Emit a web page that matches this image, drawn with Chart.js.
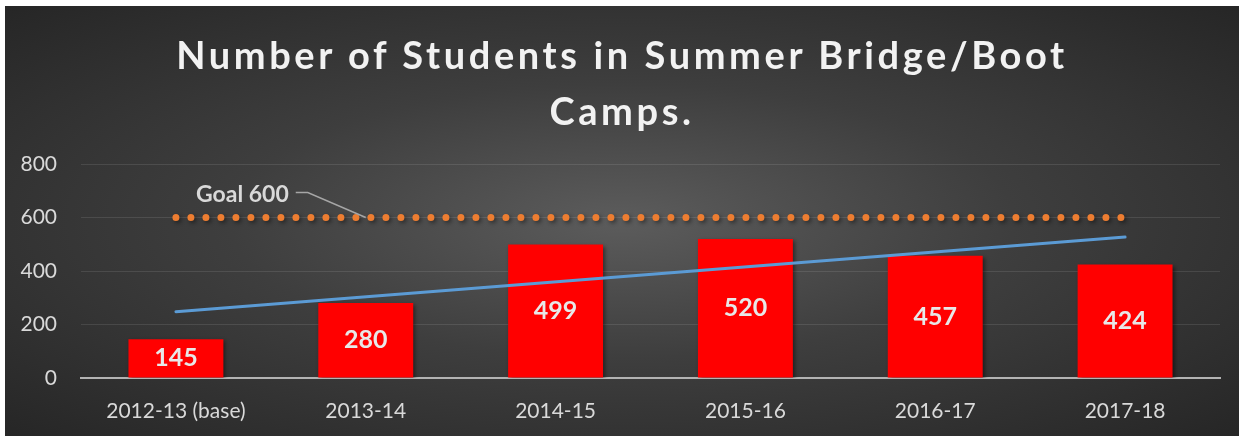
<!DOCTYPE html>
<html>
<head>
<meta charset="utf-8">
<script src="https://cdn.jsdelivr.net/npm/chart.js@4.4.1/dist/chart.umd.min.js"></script>
<style>
  html, body { margin: 0; padding: 0; background: #fff; }
  #wrap {
    position: absolute; left: 5px; top: 6px; width: 1234px; height: 430px;
    background: radial-gradient(ellipse farthest-corner at 50% 50%, #5c5c5c 0%, #3e3e3e 45%, #262626 100%);
    overflow: hidden;
  }
  #title {
    position: absolute; left: 0; right: 0; top: 20px;
    text-align: center; color: #f2f2f2;
    font: bold 38px Lato, "Open Sans", sans-serif; letter-spacing: 3.6px; line-height: 56px;
  }
  canvas { position: absolute; left: 0; top: 0; }
</style>
</head>
<body>
<div id="wrap">
  <canvas id="chart" width="1234" height="430"></canvas>
  <div id="title">Number of Students in Summer Bridge/Boot<br>Camps.</div>
</div>
<script>
const years = ['2012-13 (base)', '2013-14', '2014-15', '2015-16', '2016-17', '2017-18'];
const students = [145, 280, 499, 520, 457, 424];
const goal = [600, 600, 600, 600, 600, 600];
// trend line end points, inner years left empty so the line is drawn straight
const trend = [248, null, null, null, null, 527];
const yTicks = [0, 200, 400, 600, 800];
const goalLabel = 'Goal 600';

const tickColor = '#d9d9d9';
const fontFamily = 'Lato, "Open Sans", sans-serif';

// soft drop shadow on bars and goal dots
const shadowPlugin = {
  id: 'shadow',
  beforeDatasetDraw(chart, args) {
    const ctx = chart.ctx;
    ctx.save();
    if (args.index !== 2) {
      ctx.shadowColor = 'rgba(0,0,0,0.45)';
      ctx.shadowBlur = 4;
      ctx.shadowOffsetX = 2;
      ctx.shadowOffsetY = 2;
    }
  },
  afterDatasetDraw(chart) {
    chart.ctx.restore();
  }
};

// value labels inside the bars and the goal callout
const labelPlugin = {
  id: 'labels',
  afterDatasetsDraw(chart) {
    const ctx = chart.ctx;
    const meta = chart.getDatasetMeta(0);
    ctx.save();
    ctx.font = 'bold 25px ' + fontFamily;
    ctx.fillStyle = '#e8e8e8';
    ctx.textAlign = 'center';
    ctx.textBaseline = 'middle';
    meta.data.forEach((bar, i) => {
      ctx.fillText(String(students[i]), bar.x, (bar.y + bar.base) / 2);
    });

    // callout pointing at the goal line
    const x = chart.scales.x.getPixelForValue(1);
    const y = chart.scales.y.getPixelForValue(goal[1]);
    ctx.strokeStyle = '#a6a6a6';
    ctx.lineWidth = 1.5;
    ctx.beginPath();
    ctx.moveTo(x - 70, y - 25);
    ctx.lineTo(x - 58, y - 25);
    ctx.lineTo(x, y);
    ctx.stroke();
    ctx.font = 'bold 23px ' + fontFamily;
    ctx.fillStyle = '#d9d9d9';
    ctx.textAlign = 'right';
    ctx.fillText(goalLabel, x - 77, y - 23);
    ctx.restore();
  }
};

new Chart(document.getElementById('chart'), {
  type: 'bar',
  data: {
    labels: years,
    datasets: [
      {
        type: 'bar',
        data: students,
        backgroundColor: '#ff0000',
        borderWidth: 0,
        categoryPercentage: 1,
        barPercentage: 0.5,
        order: 3
      },
      {
        type: 'line',
        data: goal,
        borderColor: '#ed7d31',
        borderWidth: 7,
        borderCapStyle: 'round',
        borderDash: [0, 15],
        pointRadius: 0,
        fill: false,
        order: 1
      },
      {
        type: 'line',
        data: trend,
        spanGaps: true,
        borderColor: '#5b9bd5',
        borderWidth: 3,
        borderCapStyle: 'round',
        pointRadius: 0,
        fill: false,
        order: 2
      }
    ]
  },
  options: {
    responsive: false,
    animation: false,
    layout: { padding: { top: 158, right: 19, left: 0, bottom: 0 } },
    plugins: {
      legend: { display: false },
      tooltip: { enabled: false }
    },
    scales: {
      x: {
        grid: { display: false, drawTicks: false },
        border: { color: '#b3b3b3', width: 2 },
        ticks: {
          color: tickColor,
          padding: 21,
          font: { family: fontFamily, size: 21 }
        },
        afterFit(scale) { scale.height = 58; }
      },
      y: {
        min: 0,
        max: 800,
        grid: { color: 'rgba(255,255,255,0.1)', lineWidth: 1, drawTicks: false },
        border: { display: false },
        afterBuildTicks(scale) { scale.ticks = yTicks.map(v => ({ value: v })); },
        ticks: {
          color: tickColor,
          padding: 24,
          font: { family: fontFamily, size: 21 }
        },
        afterFit(scale) { scale.width = 76; }
      }
    }
  },
  plugins: [shadowPlugin, labelPlugin]
});
</script>
</body>
</html>
